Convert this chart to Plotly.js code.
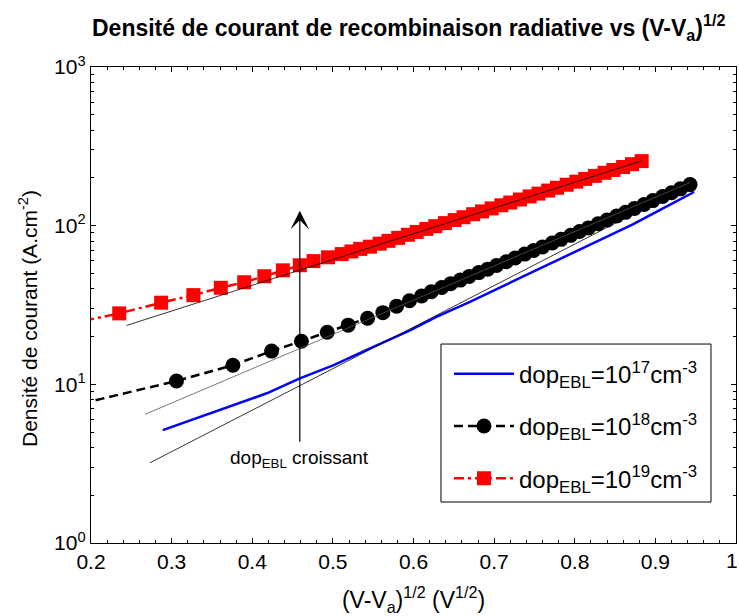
<!DOCTYPE html>
<html>
<head>
<meta charset="utf-8">
<script src="https://cdn.plot.ly/plotly-3.0.1.min.js"></script>
<style>html,body{margin:0;padding:0;background:#fff;}#chart{width:739px;height:616px;}</style>
</head>
<body>
<div id="chart"></div>
<script>
// ---- data ----
const xTickVals = [0.2,0.3,0.4,0.5,0.6,0.7,0.8,0.9,1];
const xTickText = ['0.2','0.3','0.4','0.5','0.6','0.7','0.8','0.9',''];
const xLastTickLabel = '1';   // drawn flush with the right edge, as in the reference
const yTickVals = [1,10,100,1000];
const yTickText = ['10<sup>0</sup>','10<sup>1</sup>','10<sup>2</sup>','10<sup>3</sup>'];
const yMinorVals = [2,3,4,5,6,7,8,9,20,30,40,50,60,70,80,90,200,300,400,500,600,700,800,900];

const seriesNames = ['dop<sub>EBL</sub>=10<sup>17</sup>cm<sup>-3</sup>',
                     'dop<sub>EBL</sub>=10<sup>18</sup>cm<sup>-3</sup>',
                     'dop<sub>EBL</sub>=10<sup>19</sup>cm<sup>-3</sup>'];

// dop 1e17 (blue solid)
const xBlue = [0.289,0.335,0.376,0.418,0.459,0.501,0.542,0.583,0.595,0.629,0.670,0.711,0.753,0.792,0.831,0.872,0.910,0.948];
const yBlue = [5.15,6.25,7.41,8.78,10.9,13.2,16.5,20.5,21.8,26.7,33.1,41.6,52.5,65,81.5,102,129,163];

// dop 1e18 (black dashed, circles)
const xBlack = [0.155,0.306,0.376,0.424,0.461,0.493,0.519,0.543,0.562,0.579,0.595,0.610,0.622,0.635,
  0.646,0.658,0.669,0.681,0.692,0.703,0.715,0.726,0.738,0.749,0.760,0.772,0.783,0.795,0.806,0.817,
  0.829,0.840,0.852,0.863,0.874,0.886,0.897,0.909,0.920,0.931,0.943];
const yBlack = [6.9,10.5,13.2,16.2,18.7,21.3,23.6,26.1,28.3,31.1,33.6,36.0,38.3,40.8,
  43.0,45.4,47.8,50.6,53.2,56.1,59.3,62.5,66.2,69.7,73.5,77.8,82.0,86.9,91.8,96.8,
  102.8,108.4,115.1,121.3,128.2,136.1,143.9,152.8,161.4,170.6,181.5];

// dop 1e19 (red dash-dot, squares)
const xRed = [0.115,0.235,0.287,0.327,0.361,0.390,0.415,0.438,0.459,0.476,0.494,0.511,0.523,0.534,
  0.546,0.558,0.569,0.581,0.593,0.604,0.616,0.627,0.639,0.651,0.662,0.674,0.685,0.697,0.709,0.720,
  0.732,0.744,0.755,0.767,0.778,0.790,0.802,0.813,0.825,0.837,0.848,0.860,0.871,0.883];
const yRed = [20.9,28.0,32.7,36.5,40.6,44.0,48.0,52.3,56.3,59.8,63.2,66.2,68.8,71.4,
  73.7,77.0,80.2,83.8,87.6,91.3,95.4,99.3,103.8,108.5,113.0,118.1,123.0,128.5,134.4,139.9,
  146.2,152.9,159.2,166.4,173.3,181.1,189.3,197.1,206.0,215.4,224.3,234.4,244.1,255.1];

// thin straight reference lines
const fitRedX = [0.244,0.883],   fitRedY = [23.5,256];
const fitBlackX = [0.267,0.943], fitBlackY = [6.47,187];
const fitBlueX = [0.273,0.943],  fitBlueY = [3.2,181];

// arrow "dop_EBL croissant"
const arrowX = 0.459;
const arrowY = [4.25,124];
const arrowLabel = 'dop<sub>EBL</sub> croissant';
const arrowLabelY = 3.36;

const titleText = '<b>Densité de courant de recombinaison radiative vs (V-V<sub>a</sub>)<sup>1/2</sup></b>';
const xTitleText = '(V-V<sub>a</sub>)<sup>1/2</sup> (V<sup>1/2</sup>)';
const yTitleText = 'Densité de courant (A.cm<sup>-2</sup>)';

const FONT = 'Liberation Sans, Arial, Helvetica, sans-serif';

const traces = [
  {x: xBlue, y: yBlue, name: seriesNames[0], legendgroup:'g1', mode:'lines', line:{color:'#0000ff', width:2.5}},
  {x: xBlack, y: yBlack, name: seriesNames[1], legendgroup:'g2', mode:'lines+markers',
   line:{color:'#000', width:2.5, dash:'9px,5px'}, marker:{symbol:'circle', size:15, color:'#000'}},
  {x: xRed, y: yRed, name: seriesNames[2], legendgroup:'g3', mode:'lines+markers',
   line:{color:'#ff0000', width:2.5, dash:'10px,4px,3px,4px'}, marker:{symbol:'square', size:14, color:'#ff0000'}},
  {x: fitRedX, y: fitRedY, mode:'lines', line:{color:'#000', width:0.8}, showlegend:false, hoverinfo:'skip'},
  {x: fitBlackX, y: fitBlackY, mode:'lines', line:{color:'#555', width:0.8}, showlegend:false, hoverinfo:'skip'},
  {x: fitBlueX, y: fitBlueY, mode:'lines', line:{color:'#000', width:0.8}, showlegend:false, hoverinfo:'skip'}
];

const layout = {
  width: 739, height: 616,
  paper_bgcolor:'#fff', plot_bgcolor:'#fff',
  margin:{l:91, r:3, t:67, b:73, pad:0},
  font:{family:FONT, color:'#000', size:21},
  title:{text:titleText, font:{family:FONT, size:23, color:'#000'}, x:0.553, xanchor:'center', y:0.955, yanchor:'middle'},
  xaxis:{range:[0.2,1], tickvals:xTickVals, ticktext:xTickText, ticks:'inside', ticklen:5, tickwidth:1, tickcolor:'#000',
         showline:true, linecolor:'#000', linewidth:1.2, mirror:'allticks', showgrid:false, zeroline:false,
         tickfont:{size:21}, automargin:false, ticklabeloverflow:'allow',
         minor:{dtick:0.02, tick0:0.2, ticks:'inside', ticklen:3, tickcolor:'#000', showgrid:false},
         title:{text:xTitleText, font:{size:23}, standoff:19}},
  yaxis:{type:'log', range:[0,3], tickvals:yTickVals, ticktext:yTickText, ticks:'inside', ticklen:5, tickwidth:1,
         tickcolor:'#000', showline:true, linecolor:'#000', linewidth:1.2, mirror:'allticks', showgrid:false,
         zeroline:false, tickfont:{size:21}, automargin:false, ticklabeloverflow:'allow',
         minor:{tickvals:yMinorVals, ticks:'inside', ticklen:3, tickcolor:'#000', showgrid:false},
         title:{text:''}},
  showlegend:true,
  legend:{x:0.555, xanchor:'left', y:0.402, yanchor:'top', bgcolor:'rgba(0,0,0,0)', borderwidth:0,
          font:{size:24}, itemwidth:60, tracegroupgap:18, traceorder:'grouped'},
  shapes:[
    {type:'rect', xref:'paper', yref:'paper', x0:0.5426, x1:0.9612, y0:0.0861, y1:0.418,
     line:{color:'#000', width:1}, fillcolor:'#fff', layer:'above'}
  ],
  annotations:[
    {xref:'paper', yref:'paper', x:1.0045, y:-0.0378, text:xLastTickLabel, showarrow:false,
     font:{size:21, color:'#000'}, xanchor:'right', yanchor:'middle', borderpad:0},
    {xref:'paper', yref:'paper', x:-0.0977, y:0.4727, text:yTitleText, textangle:-90, showarrow:false,
     font:{size:21, color:'#000'}, xanchor:'center', yanchor:'middle'},
    {xref:'x', yref:'y', axref:'x', ayref:'y', x:arrowX, y:Math.log10(arrowY[1]), ax:arrowX, ay:Math.log10(arrowY[0]),
     showarrow:true, arrowhead:3, arrowsize:2.6, arrowwidth:1.2, arrowcolor:'#000', text:''},
    {xref:'x', yref:'y', x:arrowX, y:Math.log10(arrowLabelY), text:arrowLabel, showarrow:false,
     font:{size:19, color:'#000'}, xanchor:'center', yanchor:'middle', bgcolor:'rgba(0,0,0,0)'}
  ]
};

Plotly.newPlot('chart', traces, layout, {staticPlot:true, displayModeBar:false});
</script>
</body>
</html>
